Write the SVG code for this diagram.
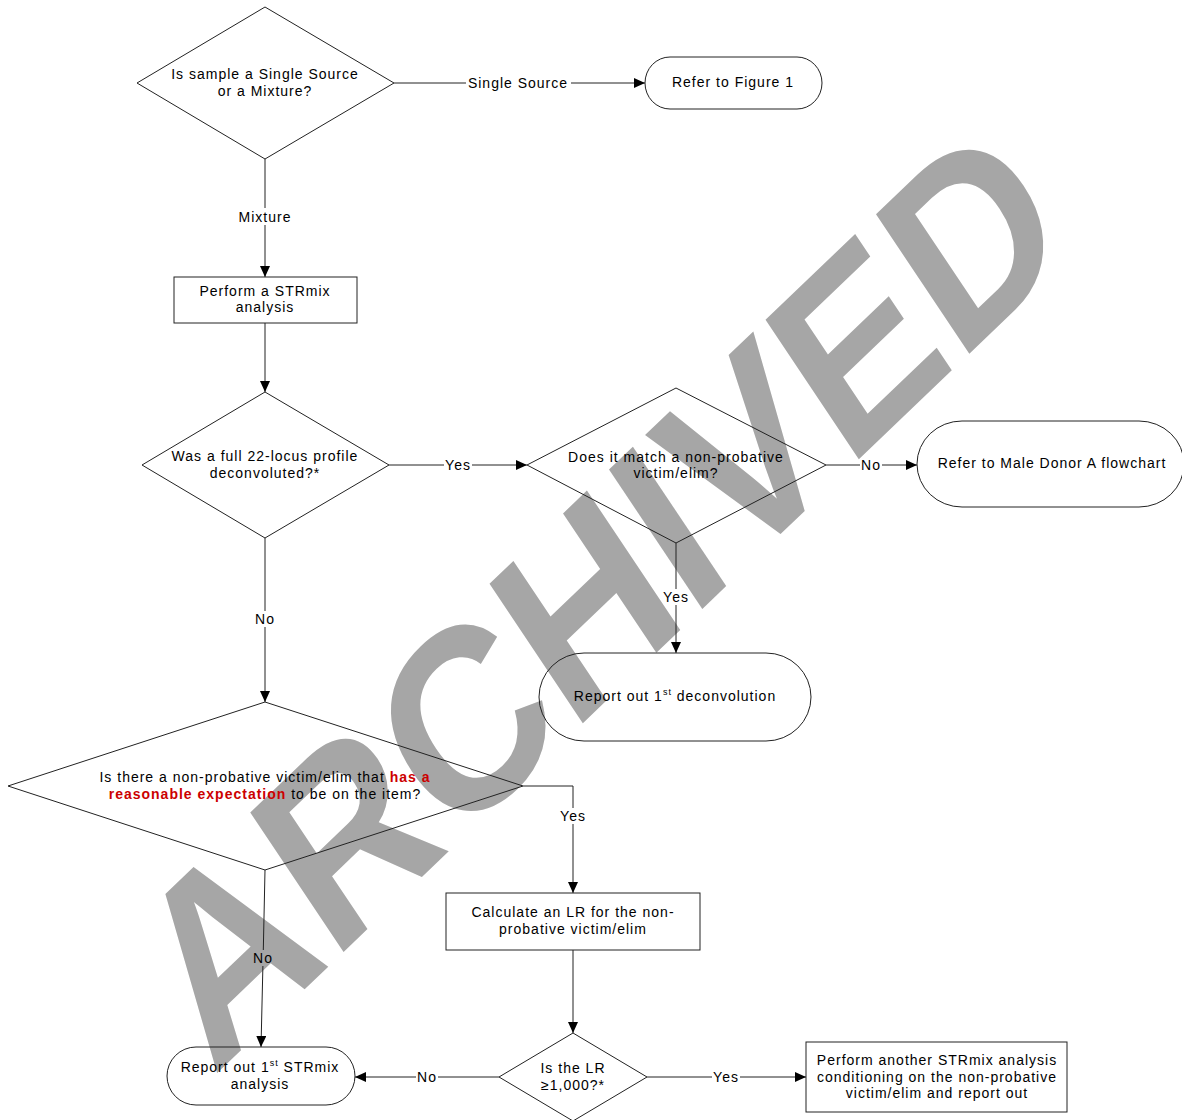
<svg xmlns="http://www.w3.org/2000/svg" width="1182" height="1120" viewBox="0 0 1182 1120">
<defs>
<marker id="arr" markerWidth="11" markerHeight="10" refX="11" refY="5" orient="auto" markerUnits="userSpaceOnUse">
<path d="M0,0 L11,5 L0,10 z" fill="#000"/>
</marker>
<style>
.t{font-family:"Liberation Sans",Arial,sans-serif;font-size:14px;letter-spacing:1px;fill:#000;text-anchor:middle}
.s{fill:none;stroke:#222;stroke-width:1}
.c{fill:none;stroke:#222;stroke-width:1}
.a{marker-end:url(#arr)}
.r{fill:#cc0000;font-weight:bold}
.wm{font-family:"Liberation Sans",Arial,sans-serif;font-weight:bold;font-size:200px;fill:#a6a6a6;text-anchor:start}
</style>
</defs>
<rect width="1182" height="1120" fill="#fff"/>
<g id="watermark">
<text class="wm" x="0" y="0" transform="matrix(0.828 -0.792 0.678 1.013 213 1077)">ARCHIVED</text>
</g>
<g id="connectors">
<line class="c" x1="394" y1="83" x2="466" y2="83"/>
<line class="c a" x1="571" y1="83" x2="645" y2="83"/>
<line class="c" x1="265" y1="159" x2="265" y2="208"/>
<line class="c a" x1="265" y1="225" x2="265" y2="277"/>
<line class="c a" x1="265" y1="323" x2="265" y2="392"/>
<line class="c" x1="389" y1="465" x2="444" y2="465"/>
<line class="c a" x1="472" y1="465" x2="527" y2="465"/>
<line class="c" x1="826" y1="465" x2="860" y2="465"/>
<line class="c a" x1="882" y1="465" x2="917" y2="465"/>
<line class="c" x1="676" y1="543" x2="676" y2="589"/>
<line class="c a" x1="676" y1="605" x2="676" y2="653"/>
<line class="c" x1="265" y1="538" x2="265" y2="611"/>
<line class="c a" x1="265" y1="627" x2="265" y2="702"/>
<path class="c" d="M523,786 H573 V808"/>
<line class="c a" x1="573" y1="824" x2="573" y2="893"/>
<line class="c a" x1="573" y1="950" x2="573" y2="1033"/>
<line class="c" x1="499" y1="1077" x2="438" y2="1077"/>
<line class="c a" x1="416" y1="1077" x2="355" y2="1077"/>
<line class="c" x1="647" y1="1077" x2="712" y2="1077"/>
<line class="c a" x1="740" y1="1077" x2="806" y2="1077"/>
<line class="c" x1="265" y1="870" x2="263.3" y2="950"/>
<line class="c a" x1="262.9" y1="966" x2="261" y2="1047"/>
<text class="t" x="518" y="88">Single Source</text>
<text class="t" x="265" y="222">Mixture</text>
<text class="t" x="458" y="470">Yes</text>
<text class="t" x="871" y="470">No</text>
<text class="t" x="676" y="602">Yes</text>
<text class="t" x="265" y="624">No</text>
<text class="t" x="573" y="821">Yes</text>
<text class="t" x="427" y="1082">No</text>
<text class="t" x="726" y="1082">Yes</text>
<text class="t" x="263" y="963">No</text>
</g>
<g id="n1">
<polygon class="s" points="265,7 394,83 265,159 137,83"/>
<text class="t" x="265" y="79">Is sample a Single Source</text>
<text class="t" x="265" y="96">or a Mixture?</text>
</g>
<g id="n2">
<rect class="s" x="645" y="57" width="177" height="52" rx="25" ry="26"/>
<text class="t" x="733" y="87">Refer to Figure 1</text>
</g>
<g id="n3">
<rect class="s" x="174" y="277" width="183" height="46"/>
<text class="t" x="265" y="296">Perform a STRmix</text>
<text class="t" x="265" y="312">analysis</text>
</g>
<g id="n4">
<polygon class="s" points="265,392 389,465 265,538 142,465"/>
<text class="t" x="265" y="461">Was a full 22-locus profile</text>
<text class="t" x="265" y="478">deconvoluted?*</text>
</g>
<g id="n5">
<polygon class="s" points="676,388 826,465 676,543 527,465"/>
<text class="t" x="676" y="462">Does it match a non-probative</text>
<text class="t" x="676" y="478">victim/elim?</text>
</g>
<g id="n6">
<rect class="s" x="917" y="421" width="267" height="86" rx="45" ry="43"/>
<text class="t" x="1052" y="468">Refer to Male Donor A flowchart</text>
</g>
<g id="n7">
<rect class="s" x="539" y="653" width="272" height="88" rx="45" ry="44"/>
<text class="t" x="675" y="701">Report out 1<tspan font-size="9" dy="-6">st</tspan><tspan dy="6"> deconvolution</tspan></text>
</g>
<g id="n8">
<polygon class="s" points="265,702 523,786 265,870 8,786"/>
<text class="t" x="265" y="782">Is there a non-probative victim/elim that <tspan class="r">has a</tspan></text>
<text class="t" x="265" y="799"><tspan class="r">reasonable expectation</tspan> to be on the item?</text>
</g>
<g id="n9">
<rect class="s" x="446" y="893" width="254" height="57"/>
<text class="t" x="573" y="917">Calculate an LR for the non-</text>
<text class="t" x="573" y="934">probative victim/elim</text>
</g>
<g id="n10">
<polygon class="s" points="573,1033 647,1077 573,1121 499,1077"/>
<text class="t" x="573" y="1073">Is the LR</text>
<text class="t" x="573" y="1090">≥1,000?*</text>
</g>
<g id="n11">
<rect class="s" x="806" y="1042" width="261" height="70"/>
<text class="t" x="937" y="1065">Perform another STRmix analysis</text>
<text class="t" x="937" y="1082">conditioning on the non-probative</text>
<text class="t" x="937" y="1098">victim/elim and report out</text>
</g>
<g id="n12">
<rect class="s" x="167" y="1047" width="188" height="58" rx="29" ry="29"/>
<text class="t" x="260" y="1072">Report out 1<tspan font-size="9" dy="-6">st</tspan><tspan dy="6"> STRmix</tspan></text>
<text class="t" x="260" y="1089">analysis</text>
</g>
</svg>
